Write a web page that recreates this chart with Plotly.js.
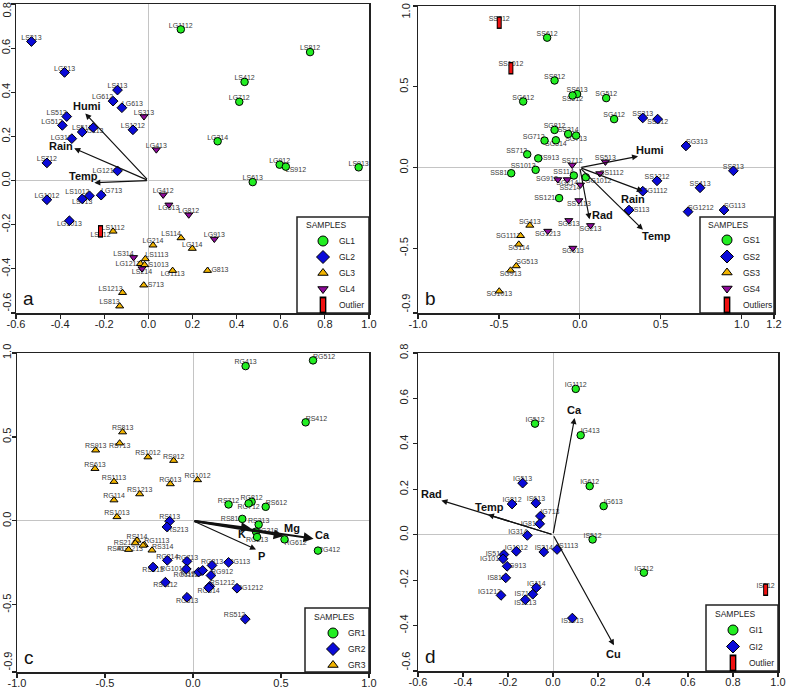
<!DOCTYPE html>
<html><head><meta charset="utf-8">
<script src="https://cdn.plot.ly/plotly-3.0.1.min.js"></script>
<style>html,body{margin:0;padding:0;background:#fff}#chart{width:787px;height:688px}</style>
</head><body><div id="chart"></div>
<script>
// ---------- Panel a ----------
const aGL1Names = ['LG1112','LS812','LS412','LG712','LG314','LG912','LS912','LS913','LS613'];
const aGL1X = [0.147,0.733,0.436,0.412,0.314,0.595,0.623,0.953,0.473];
const aGL1Y = [0.685,0.582,0.447,0.357,0.178,0.072,0.063,0.060,-0.007];
const aGL2Names = ['LS213','LG213','LS113','LG612','LG613','LS513','LG512','LS512','LG113','LG313','LS1212','LS712','LG1212','LG1012','LS1012','LS413','LG713','LG1013'];
const aGL2X = [-0.53,-0.38,-0.14,-0.16,-0.12,-0.37,-0.39,-0.30,-0.25,-0.347,-0.07,-0.46,-0.14,-0.46,-0.267,-0.30,-0.214,-0.358];
const aGL2Y = [0.63,0.49,0.41,0.36,0.33,0.29,0.25,0.22,0.24,0.19,0.23,0.08,0.044,-0.087,-0.069,-0.083,-0.066,-0.182];
const aGL3Names = ['LS1112','LS114','LG214','LG114','LS1113','LG1213','LS1013','LG1113','LS713','LS1213','LS813','LG813'];
const aGL3X = [-0.16,0.148,0.021,0.199,-0.014,-0.036,-0.017,0.11,-0.021,-0.117,-0.13,0.268];
const aGL3Y = [-0.23,-0.26,-0.293,-0.308,-0.355,-0.377,-0.382,-0.408,-0.474,-0.508,-0.569,-0.408];
const aGL4Names = ['LS313','LG413','LG412','LG513','LG812','LG913','LS314','LS214'];
const aGL4X = [-0.02,0.036,0.067,0.093,0.183,0.299,-0.067,-0.029];
const aGL4Y = [0.29,0.14,-0.065,-0.11,-0.155,-0.265,-0.348,-0.399];
const aOutNames = ['LS612'];
const aOutX = [-0.217];
const aOutY = [-0.23];
const aVarNames = ['Humi','Rain','Temp'];
const aVarX = [-0.286,-0.336,-0.245];
const aVarY = [0.304,0.146,-0.01];
const aLegendNames = ['GL1','GL2','GL3','GL4','Outlier'];

// ---------- Panel b ----------
const bGS1Names = ['SS612','SS812','SS613','SS512','SG612','SG512','SG412','SG812','SS314','SG713','SG712','SG314','SS713','SS913','SS1013','SS813','SS114','SG1012','SS1213'];
const bGS1X = [-0.202,-0.156,-0.017,-0.045,-0.35,0.163,0.212,-0.156,-0.072,-0.023,-0.218,-0.148,-0.325,-0.257,-0.273,-0.424,-0.037,0.037,-0.128];
const bGS1Y = [0.804,0.539,0.455,0.446,0.409,0.43,0.30,0.233,0.208,0.198,0.167,0.169,0.082,0.057,-0.014,-0.035,-0.049,-0.06,-0.189];
const bGS2Names = ['SS313','SS412','SG313','SS213','SS1212','SS413','SG1112','SS113','SG1212','SG113'];
const bGS2X = [0.389,0.481,0.656,0.949,0.477,0.743,0.389,0.304,0.669,0.891];
const bGS2Y = [0.307,0.30,0.134,-0.02,-0.082,-0.125,-0.146,-0.263,-0.273,-0.263];
const bGS3Names = ['SG413','SG1113','SG114','SG513','SG913','SG1013'];
const bGS3X = [-0.309,-0.366,-0.377,-0.393,-0.428,-0.498];
const bGS3Y = [-0.358,-0.422,-0.475,-0.609,-0.636,-0.765];
const bGS4Names = ['SS712','SS513','SS1112','SG912','SG214','SS214','SS1113','SG813','SG213','SG1213','SG613'];
const bGS4X = [-0.047,0.158,0.123,-0.136,-0.078,0.004,-0.006,-0.068,0.066,-0.198,-0.043];
const bGS4Y = [0.016,0.035,-0.037,-0.074,-0.074,-0.107,-0.204,-0.327,-0.358,-0.393,-0.498];
const bOutNames = ['SS912','SS1012'];
const bOutX = [-0.498,-0.426];
const bOutY = [0.897,0.615];
const bVarNames = ['Humi','Rain','Temp','Rad'];
const bVarX = [0.36,0.39,0.39,0.06];
const bVarY = [0.07,-0.146,-0.385,-0.32];
const bLegendNames = ['GS1','GS2','GS3','GS4','Outliers'];

// ---------- Panel c ----------
const cGR1Names = ['RG413','RG512','RS412','RS712','RG812','RG712','RS612','RS812','RS313','RG313','RG213','RG612','RG412'];
const cGR1X = [0.299,0.682,0.64,0.202,0.333,0.316,0.413,0.28,0.373,0.358,0.364,0.52,0.71];
const cGR1Y = [0.922,0.956,0.587,0.098,0.114,0.104,0.084,0.012,-0.022,-0.064,-0.096,-0.11,-0.177];
const cGR2Names = ['RS113','RS213','RG214','RG713','RS513','RG1013','RG1112','RS1112','RG513','RG913','RG813','RG113','RG912','RS1212','RG314','RG1212','RS512'];
const cGR2X = [-0.133,-0.148,-0.146,-0.034,-0.227,-0.038,0.032,-0.157,-0.034,0.055,0.108,0.202,0.102,0.095,0.089,0.25,0.297];
const cGR2Y = [-0.002,-0.036,-0.235,-0.241,-0.275,-0.287,-0.305,-0.365,-0.455,-0.295,-0.265,-0.247,-0.325,-0.39,-0.398,-0.401,-0.585];
const cGR3Names = ['RS813','RS713','RS913','RS1012','RS912','RS613','RS1113','RG613','RG1012','RS1213','RG114','RS1013','RS114','RS214','RG1113','RS413','RS314','RG1213'];
const cGR3X = [-0.40,-0.417,-0.553,-0.256,-0.11,-0.557,-0.449,-0.129,0.026,-0.303,-0.449,-0.432,-0.318,-0.328,-0.277,-0.366,-0.233,-0.284];
const cGR3Y = [0.529,0.463,0.421,0.38,0.359,0.311,0.234,0.22,0.244,0.16,0.124,0.024,-0.116,-0.132,-0.142,-0.171,-0.175,-0.146];
const cVarNames = ['K','Mg','Ca','P'];
const cVarX = [0.33,0.515,0.685,0.358];
const cVarY = [-0.045,-0.09,-0.106,-0.17];
const cLegendNames = ['GR1','GR2','GR3'];

// ---------- Panel d ----------
const dGI1Names = ['IG1112','IG512','IG413','IG612','IG613','IS512','IG712'];
const dGI1X = [0.101,-0.08,0.123,0.163,0.225,0.176,0.404];
const dGI1Y = [0.642,0.489,0.438,0.214,0.126,-0.021,-0.167];
const dGI2Names = ['IG513','IG812','IS613','IG713','IG813','IG314','IG1012','IS314','IS1113','IS513','IG1013','IG913','IS813','IG114','IS713','IG1212','IS1213','IS1013'];
const dGI2X = [-0.135,-0.182,-0.076,-0.056,-0.059,-0.114,-0.163,-0.041,0.018,-0.218,-0.222,-0.204,-0.21,-0.074,-0.09,-0.231,-0.123,0.086];
const dGI2Y = [0.227,0.135,0.139,0.082,0.048,-0.003,-0.073,-0.076,-0.065,-0.087,-0.106,-0.139,-0.19,-0.233,-0.262,-0.267,-0.286,-0.367];
const dOutNames = ['IS612'];
const dOutX = [0.945];
const dOutY = [-0.242];
const dVarNames = ['Ca','Rad','Temp','Cu'];
const dVarX = [0.096,-0.496,-0.289,0.271];
const dVarY = [0.514,0.151,0.088,-0.487];
const dLegendNames = ['GI1','GI2','Outlier'];

// ---------- Tick labels ----------
const aXTicks = [-0.6,-0.4,-0.2,0.0,0.2,0.4,0.6,0.8,1.0];
const aYTicks = [-0.6,-0.4,-0.2,0.0,0.2,0.4,0.6,0.8];
const bXTicks = [-1.0,-0.5,0.0,0.5,1.0,1.2];
const bYTicks = [-0.9,-0.5,0.0,0.5,1.0];
const cXTicks = [-1.0,-0.5,0.0,0.5,1.0];
const cYTicks = [-0.9,-0.5,0.0,0.5,1.0];
const dXTicks = [-0.6,-0.4,-0.2,0.0,0.2,0.4,0.6,0.8,1.0];
const dYTicks = [-0.6,-0.4,-0.2,0.0,0.2,0.4,0.6,0.8];

// ---------- Label placement (style) ----------
const aGL1Pos = ['top center','top center','top center','top center','top center','top center','bottom right','top center','top center'];
const aGL2Pos = ['top center','top center','top center','top left','top right','top left','top left','top center','bottom center','middle left','top center','top center','middle left','top center','top left','bottom center','top right','bottom center'];
const aGL3Pos = ['top center','top left','top center','top center','top right','middle left','middle right','bottom center','middle right','top left','top left','middle right'];
const aGL4Pos = ['top center','top center','top center','bottom center','top center','top center','top left','bottom center'];
const aOutPos = ['bottom center'];
const aVarDX = [2,-13,-11], aVarDY = [-7,-2,-7];

const bGS1Pos = ['top center','top center','top center','bottom center','top center','top center','top center','top center','top center','bottom center','top left','bottom center','top left','middle right','top left','middle left','top left','bottom right','middle left'];
const bGS2Pos = ['top center','bottom center','top right','top center','top center','top center','middle right','middle right','top right','top right'];
const bGS3Pos = ['top center','middle left','bottom center','top right','bottom center','bottom center'];
const bGS4Pos = ['top center','top center','middle right','middle left','bottom center','bottom left','bottom center','bottom center','bottom center','bottom center','bottom center'];
const bOutPos = ['top center','top center'];
const bVarDX = [12,-10,14,13], bVarDY = [-6,8,6,-4];

const cGR1Pos = ['top center','top right','top right','top center','top center','bottom center','top right','middle left','top center','middle right','bottom center','bottom right','middle right'];
const cGR2Pos = ['top center','bottom right','top center','top center','bottom center','middle left','bottom left','bottom center','bottom center','bottom left','top center','middle right','top right','top right','bottom center','middle right','top left'];
const cGR3Pos = ['top center','bottom center','top center','top center','top center','top center','top center','top center','top center','top center','top center','top center','top center','middle left','top right','middle left','top right','bottom left'];
const cVarDX = [-9,8,9,5], cVarDY = [6,-8,-4,7];
const cVarW = [2,2,2,1.2];

const dGI1Pos = ['top center','top center','top right','top center','top right','top center','top center'];
const dGI2Pos = ['top center','top center','top center','top right','middle left','top left','top center','top center','top right','middle left','middle left','middle right','middle left','top center','middle left','top left','bottom center','bottom center'];
const dOutPos = ['top center'];
const dVarDX = [0,-10,2,0], dVarDY = [-8,-6,-8,9];

// legend boxes, in page pixels (style)
const aLegBox = {x0:297, y0:217, x1:369, y1:313, titleX:304, titleY:225, symX:323, textX:337, rows:[241,257,273,289,305]};
const bLegBox = {x0:700, y0:217, x1:774, y1:313, titleX:706, titleY:225, symX:727, textX:741, rows:[240,256.5,272.5,288.5,305]};
const cLegBox = {x0:305, y0:608, x1:369, y1:672, titleX:312, titleY:617, symX:333, textX:346, rows:[633,649,665]};
const dLegBox = {x0:706, y0:605, x1:778, y1:671, titleX:713, titleY:614, symX:733, textX:747, rows:[630,646.5,663]};

// ---------- Styles ----------
const FONT = 'Liberation Sans, Arial, sans-serif';
const S_GREEN = {symbol:'circle', size:7.5, lsize:10, color:'#22ee22'};
const S_BLUE = {symbol:'diamond', size:7.5, lsize:10, color:'#0a0ad8'};
const S_YELLOW = {symbol:'triangle-up', size:7, lsize:9, color:'#f2b400'};
const S_PURPLE = {symbol:'triangle-down', size:7, lsize:9, color:'#8e0a9a'};
const S_OUT = null;
const TICKSIZE = 11;
const LEGSIZE = 8.5;

const W = 787, H = 688;
const traces = [];
const annotations = [];
const shapes = [];
function axn(i){ return i===1 ? '' : String(i); }

function pointGroup(i, names, xs, ys, pos, sty) {
  const xa = 'x'+axn(i), ya = 'y'+axn(i);
  traces.push({type:'scatter', mode:'text', x:xs, y:ys, text:names, textposition:pos,
    textfont:{family:FONT, size:7, color:'#3a3a3a'}, xaxis:xa, yaxis:ya, showlegend:false, hoverinfo:'skip', cliponaxis:false});
  traces.push({type:'scatter', mode:'markers', x:xs, y:ys, text:names,
    marker:{symbol:sty.symbol, size:sty.size, color:sty.color, line:{color:'#000', width:1}},
    xaxis:xa, yaxis:ya, showlegend:false, cliponaxis:false});
}
function barMarks(xa, ya, xs, ys, big) {
  const k = big ? 1.35 : 1;
  traces.push({type:'scatter', mode:'markers', x:xs, y:ys,
    marker:{symbol:'line-ns', size:9*k, color:'#000', line:{color:'#000', width:5*k}}, xaxis:xa, yaxis:ya, showlegend:false, cliponaxis:false});
  traces.push({type:'scatter', mode:'markers', x:xs, y:ys,
    marker:{symbol:'line-ns', size:7*k, color:'#ee1111', line:{color:'#ee1111', width:3*k}}, xaxis:xa, yaxis:ya, showlegend:false, cliponaxis:false});
}
function outlierGroup(i, names, xs, ys, pos) {
  const xa = 'x'+axn(i), ya = 'y'+axn(i);
  traces.push({type:'scatter', mode:'text', x:xs, y:ys, text:names, textposition:pos,
    textfont:{family:FONT, size:7, color:'#3a3a3a'}, xaxis:xa, yaxis:ya, showlegend:false, hoverinfo:'skip', cliponaxis:false});
  barMarks(xa, ya, xs, ys, false);
}
function arrows(i, names, xs, ys, dx, dy, widths) {
  const xr = 'x'+axn(i), yr = 'y'+axn(i);
  names.forEach((n, k) => {
    const w = widths ? widths[k] : 1.2;
    annotations.push({xref:xr, yref:yr, axref:xr, ayref:yr, x:xs[k], y:ys[k], ax:0, ay:0, text:'',
      showarrow:true, arrowhead:2, arrowsize:1, arrowwidth:w, arrowcolor:'#111'});
    annotations.push({xref:xr, yref:yr, x:xs[k], y:ys[k], text:'<b>'+n+'</b>', showarrow:false,
      xshift:dx[k], yshift:-dy[k], xanchor:'center', yanchor:'middle',
      font:{family:FONT, size:11, color:'#111'}});
  });
}
function panelLetter(i, letter) {
  annotations.push({xref:'x'+axn(i)+' domain', yref:'y'+axn(i)+' domain', x:0, y:0, xanchor:'left', yanchor:'bottom',
    xshift:5, yshift:2, text:letter, showarrow:false, font:{family:FONT, size:19, color:'#111'}});
}
// Manual legend drawn on a page-pixel helper axis (x5/y5)
function legendBox(box, names, styles) {
  shapes.push({type:'rect', xref:'x5', yref:'y5', x0:box.x0, y0:box.y0, x1:box.x1, y1:box.y1,
    line:{color:'#222', width:1.5}, fillcolor:'#fff', layer:'below'});
  annotations.push({xref:'x5', yref:'y5', x:box.titleX, y:box.titleY, text:'SAMPLES', showarrow:false,
    xanchor:'left', yanchor:'middle', font:{family:FONT, size:LEGSIZE, color:'#222'}});
  names.forEach((n, k) => {
    annotations.push({xref:'x5', yref:'y5', x:box.textX, y:box.rows[k], text:n, showarrow:false,
      xanchor:'left', yanchor:'middle', font:{family:FONT, size:LEGSIZE, color:'#222'}});
    const sty = styles[k];
    if (sty) {
      traces.push({type:'scatter', mode:'markers', x:[box.symX], y:[box.rows[k]], xaxis:'x5', yaxis:'y5',
        marker:{symbol:sty.symbol, size:sty.lsize, color:sty.color, line:{color:'#000', width:1}},
        showlegend:false, hoverinfo:'skip', cliponaxis:false});
    } else {
      barMarks('x5', 'y5', [box.symX], [box.rows[k]], true);
    }
  });
}

// Panel a
pointGroup(1, aGL2Names, aGL2X, aGL2Y, aGL2Pos, S_BLUE);
pointGroup(1, aGL3Names, aGL3X, aGL3Y, aGL3Pos, S_YELLOW);
pointGroup(1, aGL4Names, aGL4X, aGL4Y, aGL4Pos, S_PURPLE);
pointGroup(1, aGL1Names, aGL1X, aGL1Y, aGL1Pos, S_GREEN);
outlierGroup(1, aOutNames, aOutX, aOutY, aOutPos);
arrows(1, aVarNames, aVarX, aVarY, aVarDX, aVarDY);
panelLetter(1,'a');

// Panel b
pointGroup(2, bGS2Names, bGS2X, bGS2Y, bGS2Pos, S_BLUE);
pointGroup(2, bGS3Names, bGS3X, bGS3Y, bGS3Pos, S_YELLOW);
pointGroup(2, bGS4Names, bGS4X, bGS4Y, bGS4Pos, S_PURPLE);
pointGroup(2, bGS1Names, bGS1X, bGS1Y, bGS1Pos, S_GREEN);
outlierGroup(2, bOutNames, bOutX, bOutY, bOutPos);
arrows(2, bVarNames, bVarX, bVarY, bVarDX, bVarDY);
panelLetter(2,'b');

// Panel c
pointGroup(3, cGR3Names, cGR3X, cGR3Y, cGR3Pos, S_YELLOW);
pointGroup(3, cGR2Names, cGR2X, cGR2Y, cGR2Pos, S_BLUE);
pointGroup(3, cGR1Names, cGR1X, cGR1Y, cGR1Pos, S_GREEN);
arrows(3, cVarNames, cVarX, cVarY, cVarDX, cVarDY, cVarW);
panelLetter(3,'c');

// Panel d
pointGroup(4, dGI2Names, dGI2X, dGI2Y, dGI2Pos, S_BLUE);
pointGroup(4, dGI1Names, dGI1X, dGI1Y, dGI1Pos, S_GREEN);
outlierGroup(4, dOutNames, dOutX, dOutY, dOutPos);
arrows(4, dVarNames, dVarX, dVarY, dVarDX, dVarDY);
panelLetter(4,'d');

// Legends
legendBox(aLegBox, aLegendNames, [S_GREEN, S_BLUE, S_YELLOW, S_PURPLE, S_OUT]);
legendBox(bLegBox, bLegendNames, [S_GREEN, S_BLUE, S_YELLOW, S_PURPLE, S_OUT]);
legendBox(cLegBox, cLegendNames, [S_GREEN, S_BLUE, S_YELLOW]);
legendBox(dLegBox, dLegendNames, [S_GREEN, S_BLUE, S_OUT]);

// edge y tick labels drawn separately (bottom one lifted above the corner, top one kept inside the page)
function edgeYLabel(i, val, xs, anchor, ys) {
  annotations.push({xref:'x'+axn(i)+' domain', yref:'y'+axn(i), x:0, y:val, text:val.toFixed(1), showarrow:false,
    textangle:-90, xanchor:'right', yanchor:anchor, xshift:xs, yshift:ys,
    font:{family:FONT, size:TICKSIZE, color:'#222'}});
}
edgeYLabel(1, aYTicks[0], -2, 'bottom', -1);
edgeYLabel(2, bYTicks[0], -5, 'bottom', -1);
edgeYLabel(3, cYTicks[0], -2, 'bottom', -1);
edgeYLabel(4, dYTicks[0], -5, 'bottom', -1);
edgeYLabel(1, aYTicks[aYTicks.length-1], -2, 'top', 3);
edgeYLabel(2, bYTicks[bYTicks.length-1], -5, 'top', 5);

function axis(domain, range, ticks, anchor, isY, standoff, hideTop) {
  const a = {domain:domain, range:range, tickvals:ticks,
    ticktext:ticks.map((v, k) => (isY && (k === 0 || (hideTop && k === ticks.length-1))) ? '' : v.toFixed(1)), anchor:anchor,
    showgrid:false, zeroline:true, zerolinecolor:'#c4c4c4', zerolinewidth:1,
    showline:true, linecolor:'#222', linewidth:1.5, mirror:true,
    ticks:'outside', ticklen:4, tickwidth:1.2, tickcolor:'#222',
    tickfont:{family:FONT, size:TICKSIZE, color:'#222'}, tickangle: isY ? -90 : 0, fixedrange:true};
  if (standoff !== undefined) a.ticklabelstandoff = standoff;
  return a;
}
const dx1 = [16/W, 369/W], dx2 = [418/W, 774/W], dx3 = [17/W, 369/W], dx4 = [418/W, 778/W];
const dyA = [1-313/H, 1-4/H], dyB = [1-313/H, 1-6/H], dyC = [1-672/H, 1-353/H], dyD = [1-671/H, 1-353/H];

const layout = {
  width:W, height:H, margin:{l:0, r:0, t:0, b:0}, paper_bgcolor:'#fff', plot_bgcolor:'rgba(0,0,0,0)',
  showlegend:false,
  xaxis: axis(dx1, [-0.6, 1.0], aXTicks, 'y', false, -4),
  yaxis: axis(dyA, [-0.6, 0.8], aYTicks, 'x', true, -4, true),
  xaxis2: axis(dx2, [-1.0, 1.2], bXTicks, 'y2', false, -4),
  yaxis2: axis(dyB, [-0.9, 1.0], bYTicks, 'x2', true, undefined, true),
  xaxis3: axis(dx3, [-1.0, 1.0], cXTicks, 'y3', false, -4),
  yaxis3: axis(dyC, [-0.9, 1.0], cYTicks, 'x3', true, -4),
  xaxis4: axis(dx4, [-0.6, 1.0], dXTicks, 'y4', false, -4),
  yaxis4: axis(dyD, [-0.6, 0.8], dYTicks, 'x4', true),
  xaxis5: {domain:[0,1], range:[0, W], visible:false, fixedrange:true, anchor:'y5'},
  yaxis5: {domain:[0,1], range:[H, 0], visible:false, fixedrange:true, anchor:'x5'},
  annotations: annotations,
  shapes: shapes
};
Plotly.newPlot('chart', traces, layout, {displayModeBar:false, staticPlot:true});
</script></body></html>
